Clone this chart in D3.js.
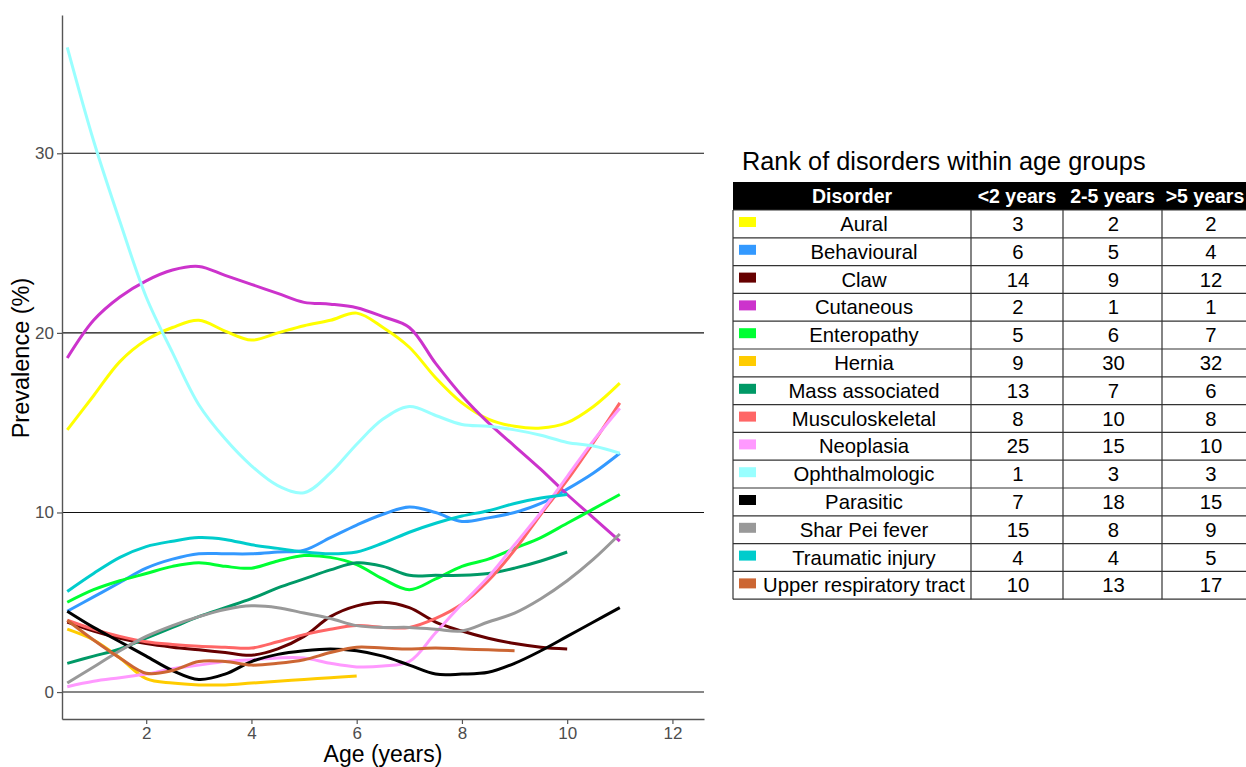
<!DOCTYPE html>
<html>
<head>
<meta charset="utf-8">
<script src="https://cdn.jsdelivr.net/npm/d3@7"></script>
<style>
  body { margin: 0; background: #fff; }
  svg { display: block; font-family: "Liberation Sans", Arial, sans-serif; }
</style>
</head>
<body>
<svg id="chart" width="1246" height="767"></svg>
<script>
// Ages (x values) shared by the series, series stop at different ages
var ages = [0.5, 1, 1.5, 2, 2.5, 3, 3.5, 4, 4.5, 5, 5.5, 6, 6.5, 7, 7.5, 8, 8.5, 9, 9.5, 10, 10.5, 11];

// Prevalence (%) per disorder
var aural = [14.6, 16.5, 18.4, 19.6, 20.3, 20.7, 20.1, 19.6, 20.0, 20.4, 20.7, 21.1, 20.3, 19.2, 17.5, 16.1, 15.2, 14.8, 14.7, 15.0, 15.9, 17.2];
var behavioural = [4.5, 5.3, 6.1, 6.9, 7.4, 7.7, 7.7, 7.7, 7.8, 7.9, 8.6, 9.3, 9.9, 10.3, 10.0, 9.5, 9.7, 10.0, 10.5, 11.3, 12.2, 13.3];
var claw = [3.9, 3.4, 3.0, 2.7, 2.5, 2.35, 2.2, 2.05, 2.4, 3.1, 4.2, 4.8, 5.0, 4.7, 3.9, 3.4, 3.0, 2.7, 2.5, 2.4];
var cutaneous = [18.6, 20.7, 22.0, 22.9, 23.5, 23.7, 23.2, 22.7, 22.2, 21.7, 21.6, 21.4, 20.9, 20.3, 18.3, 16.5, 15.0, 13.7, 12.4, 11.0, 9.7, 8.4];
var enteropathy = [5.0, 5.7, 6.2, 6.6, 7.0, 7.2, 7.0, 6.9, 7.3, 7.6, 7.5, 7.1, 6.3, 5.7, 6.3, 7.0, 7.4, 8.0, 8.6, 9.4, 10.2, 11.0];
var hernia = [3.5, 2.9, 1.9, 0.75, 0.5, 0.4, 0.4, 0.5, 0.6, 0.7, 0.8, 0.9];
var massAssociated = [1.6, 2.0, 2.4, 3.0, 3.6, 4.2, 4.7, 5.2, 5.8, 6.3, 6.8, 7.2, 7.0, 6.5, 6.5, 6.5, 6.6, 6.9, 7.3, 7.8];
var musculoskeletal = [4.0, 3.5, 3.1, 2.8, 2.65, 2.55, 2.5, 2.45, 2.8, 3.2, 3.5, 3.7, 3.6, 3.6, 4.1, 4.9, 6.2, 7.9, 9.9, 11.8, 13.9, 16.1];
var neoplasia = [0.3, 0.6, 0.8, 1.0, 1.3, 1.5, 1.7, 1.8, 1.9, 1.9, 1.6, 1.4, 1.45, 1.7, 3.3, 4.9, 6.4, 8.2, 10.0, 12.0, 14.0, 15.8];
var ophthalmologic = [35.9, 30.7, 26.2, 22.0, 18.9, 16.0, 14.1, 12.6, 11.5, 11.1, 12.2, 13.8, 15.2, 15.9, 15.4, 14.9, 14.8, 14.6, 14.3, 13.9, 13.7, 13.3];
var parasitic = [4.5, 3.6, 2.8, 2.0, 1.2, 0.7, 1.0, 1.7, 2.1, 2.3, 2.4, 2.3, 2.0, 1.5, 1.0, 1.0, 1.1, 1.6, 2.3, 3.1, 3.9, 4.7];
var sharPei = [0.5, 1.4, 2.3, 3.1, 3.7, 4.2, 4.6, 4.8, 4.7, 4.4, 4.1, 3.7, 3.6, 3.6, 3.5, 3.4, 3.9, 4.4, 5.2, 6.2, 7.4, 8.8];
var traumatic = [5.6, 6.6, 7.5, 8.1, 8.4, 8.6, 8.5, 8.2, 8.0, 7.8, 7.7, 7.8, 8.3, 8.9, 9.4, 9.8, 10.1, 10.5, 10.8, 11.0];
var upperResp = [4.0, 2.9, 1.9, 1.05, 1.2, 1.7, 1.7, 1.5, 1.6, 1.8, 2.2, 2.5, 2.45, 2.4, 2.45, 2.4, 2.35, 2.3];

// Table content
var disorders = ["Aural", "Behavioural", "Claw", "Cutaneous", "Enteropathy", "Hernia", "Mass associated",
  "Musculoskeletal", "Neoplasia", "Ophthalmologic", "Parasitic", "Shar Pei fever", "Traumatic injury", "Upper respiratory tract"];
var colors = ["#FFFF00", "#3399FF", "#660000", "#CC33CC", "#00FF33", "#FFCC00", "#009966",
  "#FF6666", "#FF99FF", "#99FFFF", "#000000", "#999999", "#00CCCC", "#CC6633"];
var rankUnder2 = [3, 6, 14, 2, 5, 9, 13, 8, 25, 1, 7, 15, 4, 10];
var rank2to5 = [2, 5, 9, 1, 6, 30, 7, 10, 15, 3, 18, 8, 4, 13];
var rankOver5 = [2, 4, 12, 1, 7, 32, 6, 8, 10, 3, 15, 9, 5, 17];
var headers = ["Disorder", "<2 years", "2-5 years", ">5 years"];

var yTicks = [0, 10, 20, 30];
var xTicks = [2, 4, 6, 8, 10, 12];

var seriesValues = [aural, behavioural, claw, cutaneous, enteropathy, hernia, massAssociated,
  musculoskeletal, neoplasia, ophthalmologic, parasitic, sharPei, traumatic, upperResp];

var svg = d3.select("#chart");

// Scales
var x = d3.scaleLinear().domain([0.4, 12.6]).range([62, 704]);
var y = d3.scaleLinear().domain([-1.5, 37.7]).range([719, 15]);

// Horizontal grid lines
svg.append("g").selectAll("line")
  .data(yTicks)
  .enter().append("line")
  .attr("x1", x.range()[0]).attr("x2", x.range()[1])
  .attr("y1", function (d) { return y(d); })
  .attr("y2", function (d) { return y(d); })
  .attr("stroke", "#111")
  .attr("stroke-width", 1.1);

// Lines
var line = d3.line()
  .x(function (d) { return x(d.age); })
  .y(function (d) { return y(d.value); })
  .curve(d3.curveCatmullRom);

seriesValues.forEach(function (vals, i) {
  var pts = vals.map(function (v, j) { return { age: ages[j], value: v }; });
  svg.append("path")
    .datum(pts)
    .attr("fill", "none")
    .attr("stroke", colors[i])
    .attr("stroke-width", 3)
    .attr("stroke-linejoin", "round")
    .attr("d", line);
});

// Axes
var xAxis = svg.append("g")
  .attr("transform", "translate(0," + y.range()[0] + ")")
  .call(d3.axisBottom(x).tickValues(xTicks).tickSize(5).tickSizeOuter(0).tickPadding(3));
var yAxis = svg.append("g")
  .attr("transform", "translate(" + x.range()[0] + ",0)")
  .call(d3.axisLeft(y).tickValues(yTicks).tickSize(5).tickSizeOuter(0).tickPadding(3));

[xAxis, yAxis].forEach(function (ax) {
  ax.attr("font-size", null).attr("font-family", null);
  ax.select(".domain").attr("stroke", "#555").attr("stroke-width", 1.4);
  ax.selectAll(".tick line").attr("stroke", "#555").attr("stroke-width", 1.2);
  ax.selectAll(".tick text")
    .attr("fill", "#4D4D4D")
    .style("font-size", "17px");
});

svg.append("text")
  .attr("x", 383).attr("y", 762)
  .attr("text-anchor", "middle")
  .style("font-size", "23px")
  .text("Age (years)");

svg.append("text")
  .attr("transform", "translate(29,358) rotate(-90)")
  .attr("text-anchor", "middle")
  .style("font-size", "23.5px")
  .text("Prevalence (%)");

// Table
var colX = [733, 971, 1063, 1162, 1258];
var headTop = 182, headH = 28, rowH = 27.8;
var tableBottom = headTop + headH + rowH * disorders.length;

svg.append("text")
  .attr("x", 742).attr("y", 170)
  .style("font-size", "25.3px")
  .text("Rank of disorders within age groups");

svg.append("rect")
  .attr("x", colX[0]).attr("y", headTop)
  .attr("width", colX[4] - colX[0]).attr("height", headH)
  .attr("fill", "#000");

svg.append("g").selectAll("text")
  .data(headers)
  .enter().append("text")
  .attr("x", function (d, i) { return i == 3 ? 1205 : (colX[i] + colX[i + 1]) / 2; })
  .attr("y", headTop + 21)
  .attr("text-anchor", "middle")
  .attr("fill", "#fff")
  .style("font-weight", "bold")
  .style("font-size", "19.5px")
  .text(function (d) { return d; });

var rows = svg.append("g").selectAll("g")
  .data(disorders)
  .enter().append("g")
  .attr("transform", function (d, i) { return "translate(0," + (headTop + headH + i * rowH) + ")"; });

rows.append("rect")
  .attr("x", 739).attr("y", 7)
  .attr("width", 17).attr("height", 10)
  .attr("fill", function (d, i) { return colors[i]; });

rows.append("text")
  .attr("x", 864).attr("y", 21)
  .attr("text-anchor", "middle")
  .style("font-size", "20.3px")
  .text(function (d) { return d; });

[rankUnder2, rank2to5, rankOver5].forEach(function (ranks, c) {
  rows.append("text")
    .attr("x", (colX[c + 1] + colX[c + 2]) / 2 + 1)
    .attr("y", 21)
    .attr("text-anchor", "middle")
    .style("font-size", "20.3px")
    .text(function (d, i) { return ranks[i]; });
});

// Table grid lines
var grid = svg.append("g").attr("stroke", "#333").attr("stroke-width", 1.2);
d3.range(disorders.length + 1).forEach(function (i) {
  var yy = headTop + headH + i * rowH;
  grid.append("line").attr("x1", colX[0]).attr("x2", colX[4]).attr("y1", yy).attr("y2", yy);
});
colX.slice(0, 4).forEach(function (cx) {
  grid.append("line").attr("x1", cx).attr("x2", cx).attr("y1", headTop + headH).attr("y2", tableBottom);
});
</script>
</body>
</html>
